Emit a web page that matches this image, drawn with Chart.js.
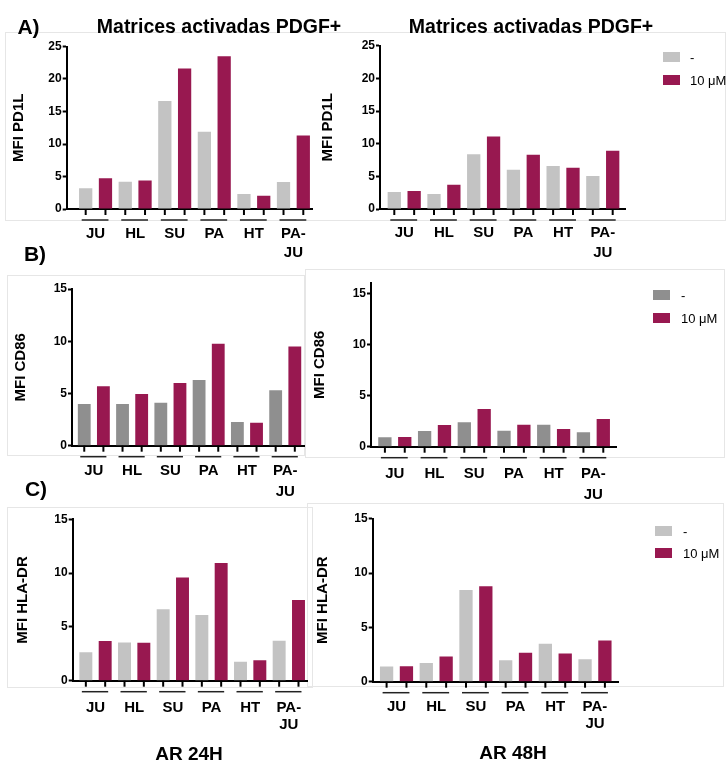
<!DOCTYPE html>
<html><head><meta charset="utf-8">
<script src="https://cdn.jsdelivr.net/npm/chart.js@4/dist/chart.umd.min.js"></script>
<style>
body{margin:0;background:#fff;}
#fig{position:relative;width:727px;height:762px;overflow:hidden;font-family:"Liberation Sans",Arial,sans-serif;color:#000;background:#fff;}
.t{position:absolute;white-space:nowrap;transform:translate(-50%,-50%);font-weight:bold;line-height:1;}
.box{position:absolute;border:1px solid #e6e6e6;box-sizing:border-box;}
canvas{position:absolute;}
.lg{position:absolute;font-size:13px;white-space:nowrap;line-height:1;transform:translateY(-50%);}
.sw{position:absolute;width:17px;height:10px;}
</style></head><body>
<div id="fig">
  <div class="box" style="left:5px;top:32px;width:721px;height:189px"></div>
  <div class="box" style="left:7px;top:275px;width:298px;height:181px"></div>
  <div class="box" style="left:305px;top:269px;width:420px;height:189px"></div>
  <div class="box" style="left:7px;top:507px;width:306px;height:181px"></div>
  <div class="box" style="left:307px;top:503px;width:417px;height:184px"></div>
</div>
<script>
// ---------------- data ----------------
const categories = ['JU', 'HL', 'SU', 'PA', 'HT', 'PA-JU'];
const seriesNames = ['-', '10 μM'];
const ticksPD1L = [0, 5, 10, 15, 20, 25];
const ticks15 = [0, 5, 10, 15];

const pd1l24Ctrl = [3.2, 4.2, 16.6, 11.9, 2.3, 4.15];
const pd1l24Trt  = [4.75, 4.4, 21.6, 23.5, 2.05, 11.3];
const pd1l48Ctrl = [2.6, 2.3, 8.4, 6.0, 6.6, 5.05];
const pd1l48Trt  = [2.75, 3.7, 11.1, 8.3, 6.3, 8.9];

const cd8624Ctrl = [4.0, 4.0, 4.1, 6.3, 2.27, 5.3];
const cd8624Trt  = [5.7, 4.95, 6.0, 9.75, 2.2, 9.5];
const cd8648Ctrl = [0.92, 1.54, 2.4, 1.57, 2.15, 1.41];
const cd8648Trt  = [0.95, 2.13, 3.7, 2.15, 1.74, 2.72];

const hla24Ctrl = [2.65, 3.55, 6.65, 6.1, 1.77, 3.72];
const hla24Trt  = [3.7, 3.53, 9.6, 10.95, 1.9, 7.5];
const hla48Ctrl = [1.4, 1.72, 8.43, 1.97, 3.5, 2.06];
const hla48Trt  = [1.42, 2.32, 8.78, 2.67, 2.6, 3.8];

const yTitles = ['MFI PD1L', 'MFI CD86', 'MFI HLA-DR'];

// ---------------- styles ----------------
const LIGHT = '#c3c3c3', MID = '#8f8f8f', RED = '#981850';
const FONT = '"Liberation Sans", Arial, sans-serif';

const prismTicks = {
  id: 'prismTicks',
  afterDraw(chart) {
    const ctx = chart.ctx;
    const y0 = chart.scales.x.top;
    const a = chart.getDatasetMeta(0).data, b = chart.getDatasetMeta(1).data;
    ctx.save();
    ctx.strokeStyle = '#000';
    for (let i = 0; i < a.length; i++) {
      ctx.lineWidth = 2;
      [a[i], b[i]].forEach(bar => {
        ctx.beginPath(); ctx.moveTo(bar.x, y0); ctx.lineTo(bar.x, y0 + 6); ctx.stroke();
      });
      ctx.lineWidth = 1.5;
      ctx.strokeStyle = '#222';
      ctx.beginPath(); ctx.moveTo(a[i].x - 4, y0 + 11); ctx.lineTo(b[i].x + 3, y0 + 11); ctx.stroke();
      ctx.strokeStyle = '#000';
    }
    ctx.restore();
  }
};

const panels = [
  {top:46.5, axisX:66.7, y0:209, xEnd:312, max:25, tv:ticksPD1L, title:yTitles[0], ctrl:pd1l24Ctrl, trt:pd1l24Trt, gray:LIGHT, start:-0.73, end:5.47, pad:15, lh:1.3, L:10},
  {top:45.7, axisX:380, y0:209, xEnd:625, max:25, tv:ticksPD1L, title:yTitles[0], ctrl:pd1l48Ctrl, trt:pd1l48Trt, gray:LIGHT, start:-0.61, end:5.56, pad:14.5, lh:1.3, L:319},
  {top:289, axisX:72, y0:445.7, xEnd:304, max:15, tv:ticks15, title:yTitles[1], ctrl:cd8624Ctrl, trt:cd8624Trt, gray:MID, start:-0.57, end:5.49, pad:15, lh:1.4, L:12},
  {top:283, axisX:371, y0:446.7, xEnd:616, max:16.08, tv:ticks15, title:yTitles[1], ctrl:cd8648Ctrl, trt:cd8648Trt, gray:MID, start:-0.60, end:5.57, pad:17, lh:1.4, L:311},
  {top:519.3, axisX:72.7, y0:680.7, xEnd:307, max:15, tv:ticks15, title:yTitles[2], ctrl:hla24Ctrl, trt:hla24Trt, gray:LIGHT, start:-0.59, end:5.47, pad:19, lh:1.13, L:14},
  {top:518.7, axisX:372.7, y0:681.7, xEnd:618, max:15, tv:ticks15, title:yTitles[2], ctrl:hla48Ctrl, trt:hla48Trt, gray:LIGHT, start:-0.60, end:5.58, pad:16.7, lh:1.15, L:314}
];

const fig = document.getElementById('fig');

function addText(txt, x, y, size, bold) {
  const d = document.createElement('div');
  d.className = 't';
  d.style.left = x + 'px'; d.style.top = y + 'px';
  d.style.fontSize = size + 'px';
  d.style.fontWeight = bold ? 'bold' : 'normal';
  d.textContent = txt;
  fig.appendChild(d);
}

function addLegend(x, y1, y2, tx, gray) {
  [[y1, gray, seriesNames[0]], [y2, RED, seriesNames[1]]].forEach(([y, c, s]) => {
    const sw = document.createElement('div');
    sw.className = 'sw';
    sw.style.left = x + 'px'; sw.style.top = (y - 5) + 'px'; sw.style.background = c;
    fig.appendChild(sw);
    const t = document.createElement('div');
    t.className = 'lg';
    t.style.left = tx + 'px'; t.style.top = y + 'px';
    t.textContent = s;
    fig.appendChild(t);
  });
}

const XH = 62, PR = 24;
panels.forEach(p => {
  const T = Math.round(p.top - 10);
  const pt = p.top - T;
  const W = Math.round(p.xEnd - p.L + PR);
  const H = Math.round(p.y0 - T + XH);
  const yw = p.axisX - p.L;
  const cv = document.createElement('canvas');
  cv.width = W; cv.height = H;
  cv.style.left = p.L + 'px'; cv.style.top = T + 'px';
  cv.style.width = W + 'px'; cv.style.height = H + 'px';
  fig.appendChild(cv);
  const xh = H - (p.y0 - T);
  new Chart(cv, {
    type: 'bar',
    data: {
      labels: categories,
      datasets: [
        {label: seriesNames[0], data: p.ctrl, backgroundColor: p.gray, borderWidth: 0},
        {label: seriesNames[1], data: p.trt, backgroundColor: RED, borderWidth: 0}
      ]
    },
    options: {
      responsive: false, animation: false, events: [],
      layout: {padding: {left: 0, top: pt, right: W - (p.xEnd - p.L), bottom: 0}},
      plugins: {legend: {display: false}, tooltip: {enabled: false}},
      datasets: {bar: {barPercentage: 0.67, categoryPercentage: 1}},
      scales: {
        x: {
          type: 'category', offset: true,
          grid: {display: false, drawTicks: false},
          border: {display: true, color: '#000', width: 2},
          ticks: {
            color: '#000', padding: p.pad, maxRotation: 0, autoSkip: false,
            font: {family: FONT, size: 15, weight: 'bold', lineHeight: p.lh},
            callback: (v, i) => {
              const s = categories[i];
              const k = s.indexOf('-');
              return k > 0 ? [s.slice(0, k + 1), s.slice(k + 1)] : s;
            }
          },
          afterBuildTicks: s => { s._startValue = p.start; s._valueRange = p.end - p.start; },
          afterFit: s => { s.height = xh; }
        },
        y: {
          min: 0, max: p.max,
          grid: {display: true, drawOnChartArea: false, drawTicks: true, tickLength: 4, tickWidth: 2, tickColor: '#000'},
          border: {display: true, color: '#000', width: 2},
          ticks: {color: '#000', padding: 1, font: {family: FONT, size: 12, weight: 'bold'}},
          afterBuildTicks: s => { s.ticks = p.tv.map(v => ({value: v})); },
          title: {display: true, text: p.title, color: '#000', padding: 0,
                  font: {family: FONT, size: 15, weight: 'bold', lineHeight: 1.2}},
          afterFit: s => { s.width = yw; }
        }
      }
    },
    plugins: [prismTicks]
  });
});

addText('A)', 28.5, 25.5, 21, true);
addText('B)', 35, 253, 21, true);
addText('C)', 36, 488, 21, true);
addText('Matrices activadas PDGF+', 219, 27, 19.5, true);
addText('Matrices activadas PDGF+', 531, 27, 19.5, true);
addText('AR 24H', 189, 752.5, 19, true);
addText('AR 48H', 513, 751.5, 19, true);

addLegend(663, 57, 80, 690, LIGHT);
addLegend(653, 295, 318, 681, MID);
addLegend(655, 531, 553, 683, LIGHT);
</script>
</body></html>
